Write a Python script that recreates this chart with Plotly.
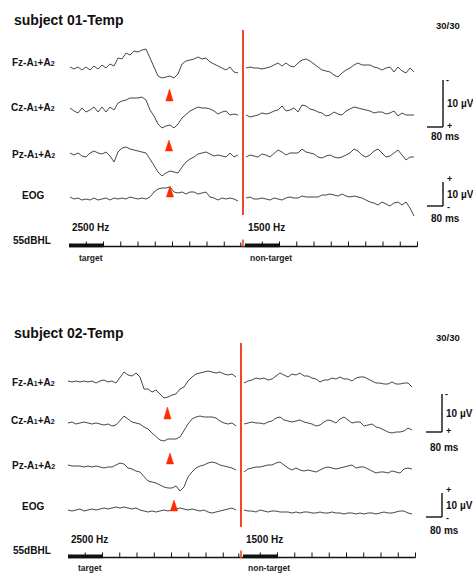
import numpy as np
import plotly.graph_objects as go

# ------------------------------------------------------------------ DATA
subject_titles = ["subject 01-Temp", "subject 02-Temp"]
accepted_counts = ["30/30", "30/30"]
channels = ["Fz", "Cz", "Pz", "EOG"]
stimulus_freqs = ["2500 Hz", "1500 Hz"]
stimulus_roles = ["target", "non-target"]
stim_level = "55dBHL"
scale_amp_label = "10 µV"
scale_time_label = "80 ms"

# averaged waveforms (display amplitude units, positive = upward on screen)
s01_fz_target = [1, -1, 1, -2, 1, -2, 2, -1, 3, 0, 4, 2, 10, 9, 15, 13, 17, 16, 18, 19, 10, 0, -8, -10, -9, -8,
                 -10, -6, 4, 7, 8, 9, 11, 9, 10, 6, 4, 2, 0, -2, 1, -4, -5]
s01_fz_nontarget = [0, 1, 0, 0, -1, 0, 1, 3, 5, 2, 5, 2, 1, 5, 8, 9, 7, 4, 1, -2, -3, -4, -7, -9, -5, -2, 0, 3,
                    5, 3, 3, 3, 1, 0, -2, 0, 1, -4, 1, -3, -5, 0, -4]
s01_cz_target = [0, -3, -5, 0, -4, -2, 1, -4, 1, -4, 1, -2, 5, 7, 8, 10, 10, 10, 11, 8, -2, -8, -16, -20, -18,
                 -17, -20, -16, -10, -6, -3, -1, 1, 0, 0, -1, -3, -6, -4, -3, -7, -6, -7]
s01_cz_nontarget = [-7, -9, -8, -7, -5, -6, -5, -3, -2, 2, -3, -2, 0, -4, 3, 2, -1, -2, -4, -5, -8, -7, -4, -6,
                    -7, -3, -1, 1, 0, -1, -2, -3, -5, -4, -4, -6, -5, -3, -8, -5, -7, -7, -7]
s01_pz_target = [2, 0, 2, -1, -2, 2, 4, 2, 1, 3, -1, -7, 3, 7, 8, 6, 5, 4, 3, 2, -4, -11, -17, -21, -18, -16,
                 -17, -18, -12, -7, -4, -2, 1, 2, 3, 1, -1, 0, -1, -2, 2, -2, 0]
s01_pz_nontarget = [-2, 0, -1, -2, 1, 0, -2, 2, 5, 3, 0, 2, 2, 2, 6, 3, 2, 1, -2, -3, -1, 0, -2, -3, -2, 0, 2, 6,
                    4, 0, -2, 0, 4, 6, 2, -2, -1, 2, 5, 0, -5, -2, -2]
s01_eog_target = [1, -1, 0, -2, -1, -2, 0, -2, -1, 0, -2, 0, -1, 0, -1, 1, 0, -1, 0, -1, 1, 6, 9, 10, 10, 11, 6,
                  5, 6, 4, 6, 6, 4, 5, 6, 1, 0, -2, 0, -1, 0, -1, -3]
s01_eog_nontarget = [0, 1, -1, -1, 0, -1, -2, 0, -1, -2, 0, 1, 0, 0, 2, 1, 1, 1, 1, 3, 3, 4, 3, 2, 4, 2, 1, 2, 1,
                     0, -2, -4, -5, -7, -4, -6, -8, -5, -4, -7, -4, -10, -18]

s02_fz_target = [1, 0, 1, 0, 1, 0, 1, -1, 1, 2, 0, 1, -1, 5, 10, 7, 6, 9, 5, -7, -7, -10, -8, -12, -16, -15,
                 -13, -12, -7, -5, 1, 5, 8, 9, 10, 11, 10, 9, 10, 8, 7, 8, 5]
s02_fz_nontarget = [-1, 1, 2, 4, 3, 4, 2, 3, 6, 9, 7, 5, 8, 7, 9, 6, 6, 4, 3, 0, 2, 2, 4, 3, 5, 3, 3, 1, 4, 5, 5,
                    3, 1, -1, -1, -2, -2, 0, -2, -2, -1, -1, -5]
s02_cz_target = [0, 1, -1, 0, 1, 0, -1, 0, -1, -2, -1, -3, -2, 2, 7, 4, 1, 0, -1, -4, -6, -10, -14, -17, -18,
                 -16, -16, -16, -14, -7, -1, 4, 6, 7, 6, 6, 6, 5, 2, 0, -1, 0, -3]
s02_cz_nontarget = [-1, 0, 1, 0, 0, -1, 1, 2, 5, 6, 3, 2, 1, 2, 3, 1, 0, -1, -3, -2, 1, 3, 2, 0, 4, 6, 3, 0, 1,
                    1, -3, -2, -1, -4, -5, -7, -9, -10, -9, -9, -8, -5, -7]
s02_pz_target = [0, -1, -1, -1, -2, -1, -2, -1, -2, -3, -2, -2, 0, 2, 1, -3, -4, -6, -7, -12, -16, -17, -18, -20,
                 -22, -23, -23, -21, -26, -22, -12, -7, -3, -1, 0, 2, 3, 2, 0, -1, -2, -3, -5]
s02_pz_nontarget = [-7, -4, -3, -2, -2, -1, 0, 0, 2, 3, 0, -3, -5, -3, -5, -6, -5, -6, -7, -5, -3, -2, -3, -4,
                    -3, -2, -1, 0, -3, -2, -2, -4, -6, -8, -7, -7, -8, -6, -7, -8, -4, -3, -4]
s02_eog_target = [0, -1, 0, 1, -1, 0, 1, 0, 1, 2, 1, 2, 3, 2, 3, 2, 1, 2, 0, -1, -2, -1, -2, -1, 0, -1, 0, 1, 2,
                  1, 0, 1, 0, -1, 0, -2, -3, -2, -1, 0, 1, 2, 0]
s02_eog_nontarget = [0, -1, -1, -2, 0, -1, -2, -1, -1, -2, -2, -2, -3, -2, -3, -2, -2, -3, -3, -2, -3, -3, -2,
                     -3, -3, -4, -3, -3, -4, -3, -4, -3, -3, -4, -3, -2, -3, -3, -2, -1, -1, -3, -4]

# P300 marker latency (fraction of the target sweep) for Cz, Pz, EOG rows
s01_marker_frac = [0.592, 0.589, 0.595]
s02_marker_frac = [0.592, 0.607, 0.631]

# ------------------------------------------------------------------ LAYOUT GEOMETRY (pixels)
W, H = 473, 573
FONT = "Liberation Sans, Arial, Helvetica, sans-serif"
TRACE_COLOR = "#474747"
RED = "#f2462a"
TRI_RED = "#ff2a00"

panels = [
    dict(title=subject_titles[0], count=accepted_counts[0],
         data=[(s01_fz_target, s01_fz_nontarget), (s01_cz_target, s01_cz_nontarget),
               (s01_pz_target, s01_pz_nontarget), (s01_eog_target, s01_eog_nontarget)],
         marks=s01_marker_frac,
         xl=(70, 238), xr=(246, 414), red_x=243, red_y=(30, 215),
         base=[68, 108, 155, 198], label_y=[62, 107, 154, 195],
         title_y=20, count_y=25, bar_y=246.5, bar_x0=69, hz_y=227, db_y=240, role_y=258,
         tri=[(101, 89), (151, 140), (197, 186)],
         sb1=(80, 127), sb1_ms=136, sb2=(182, 206), sb2_ms=218, sb_x=443),
    dict(title=subject_titles[1], count=accepted_counts[1],
         data=[(s02_fz_target, s02_fz_nontarget), (s02_cz_target, s02_cz_nontarget),
               (s02_pz_target, s02_pz_nontarget), (s02_eog_target, s02_eog_nontarget)],
         marks=s02_marker_frac,
         xl=(68, 236), xr=(244, 412), red_x=241, red_y=(343, 527),
         base=[382, 423, 465, 510], label_y=[382, 420, 465, 506],
         title_y=333, count_y=337, bar_y=557.5, bar_x0=68, hz_y=539, db_y=550, role_y=568,
         tri=[(419, 407), (464, 453), (511, 500)],
         sb1=(394, 432), sb1_ms=447, sb2=(493, 517), sb2_ms=530, sb_x=442),
]

TICK_STEP = 17.25

fig = go.Figure()
shapes = []
annots = []


def text(x, y, s, size=10, anchor="left", bold=True, color="#111"):
    annots.append(dict(x=x, y=y, xref="x", yref="y", text=f"<b>{s}</b>" if bold else s,
                       showarrow=False, xanchor=anchor, yanchor="middle",
                       font=dict(family=FONT, size=size, color=color)))


def line(x0, y0, x1, y1, color="#111", width=1.2):
    shapes.append(dict(type="line", x0=x0, y0=y0, x1=x1, y1=y1, xref="x", yref="y",
                       line=dict(color=color, width=width)))


def chan_label(ch):
    if ch == "EOG":
        return ch
    sub = "<span style='font-size:7px'>{}</span>"
    return f"{ch}-A{sub.format(1)}+A{sub.format(2)}"


for p in panels:
    text(12, p["title_y"], p["title"], size=14)
    text(434, p["count_y"], p["count"], size=9.5)
    # waveforms
    for i, ch in enumerate(channels):
        text(33, p["label_y"][i], chan_label(ch), size=10, anchor="center")
        for (x0, x1), vals in zip((p["xl"], p["xr"]), p["data"][i]):
            v = np.asarray(vals, dtype=float)
            xs = np.linspace(x0, x1, len(v))
            fig.add_trace(go.Scatter(x=xs, y=p["base"][i] - v, mode="lines",
                                     line=dict(color=TRACE_COLOR, width=1),
                                     hoverinfo="skip", showlegend=False))
    # P300 markers
    for frac, (yb, yt) in zip(p["marks"], p["tri"]):
        cx = p["xl"][0] + frac * (p["xl"][1] - p["xl"][0])
        fig.add_trace(go.Scatter(x=[cx - 3.6, cx, cx + 3.6, cx - 3.6], y=[yb, yt, yb, yb],
                                 mode="lines", fill="toself", fillcolor=TRI_RED,
                                 line=dict(color=TRI_RED, width=0.5),
                                 hoverinfo="skip", showlegend=False))
    # stimulus-onset red line
    line(p["red_x"], p["red_y"][0], p["red_x"], p["red_y"][1], color=RED, width=2)
    # stimulus bar
    by = p["bar_y"]
    bx0 = p["bar_x0"]
    rx0 = p["red_x"] + 2
    right_end = rx0 + 10 * TICK_STEP
    line(bx0, by, right_end, by, width=1.3)
    for start in (bx0, rx0):
        shapes.append(dict(type="rect", x0=start, x1=start + 2 * TICK_STEP, y0=by - 3, y1=by + 0.8,
                           xref="x", yref="y", fillcolor="#111", line=dict(width=0)))
        for k in range(1, 11):
            if start == bx0 and k == 10:
                continue
            tx = start + k * TICK_STEP
            line(tx, by - 5, tx, by, width=1)
    line(p["red_x"] - 2.2, by - 4, p["red_x"] - 2.2, by, width=1)
    line(p["red_x"], by - 7, p["red_x"], by + 1, color=RED, width=1.6)
    text(bx0 + 1, p["hz_y"], stimulus_freqs[0], size=10)
    text(rx0 + 1, p["hz_y"], stimulus_freqs[1], size=10)
    text(11, p["db_y"], stim_level, size=10)
    text(bx0 + 8, p["role_y"], stimulus_roles[0], size=8.5, color="#222")
    text(rx0 + 3, p["role_y"], stimulus_roles[1], size=8.5, color="#222")
    # calibration bars
    sx = p["sb_x"]
    for (t, b), ms_y, top_sign, bot_sign in ((p["sb1"], p["sb1_ms"], "-", "+"),
                                             (p["sb2"], p["sb2_ms"], "+", "-")):
        line(sx, t, sx, b, width=1.4)
        line(sx - 16, b, sx, b, width=1.4)
        text(sx + 2, (t + b) / 2, scale_amp_label, size=10)
        if top_sign == "-":
            text(sx + 4, t, "-", size=9, anchor="center")
            text(sx + 6, b - 1, "+", size=9, anchor="center")
        else:
            text(sx + 6, t - 3, "+", size=9, anchor="center")
            text(sx + 5, b + 1, "-", size=9, anchor="center")
        text(sx - 14, ms_y, scale_time_label, size=10)

fig.update_layout(
    width=W, height=H, margin=dict(l=0, r=0, t=0, b=0),
    paper_bgcolor="white", plot_bgcolor="white",
    xaxis=dict(range=[0, W], visible=False, fixedrange=True),
    yaxis=dict(range=[H, 0], visible=False, fixedrange=True),
    shapes=shapes, annotations=annots, showlegend=False,
)
fig.write_html("out.html", config={"displayModeBar": False, "staticPlot": True},
               post_script="document.body.style.margin='0';document.body.style.overflow='hidden';")
